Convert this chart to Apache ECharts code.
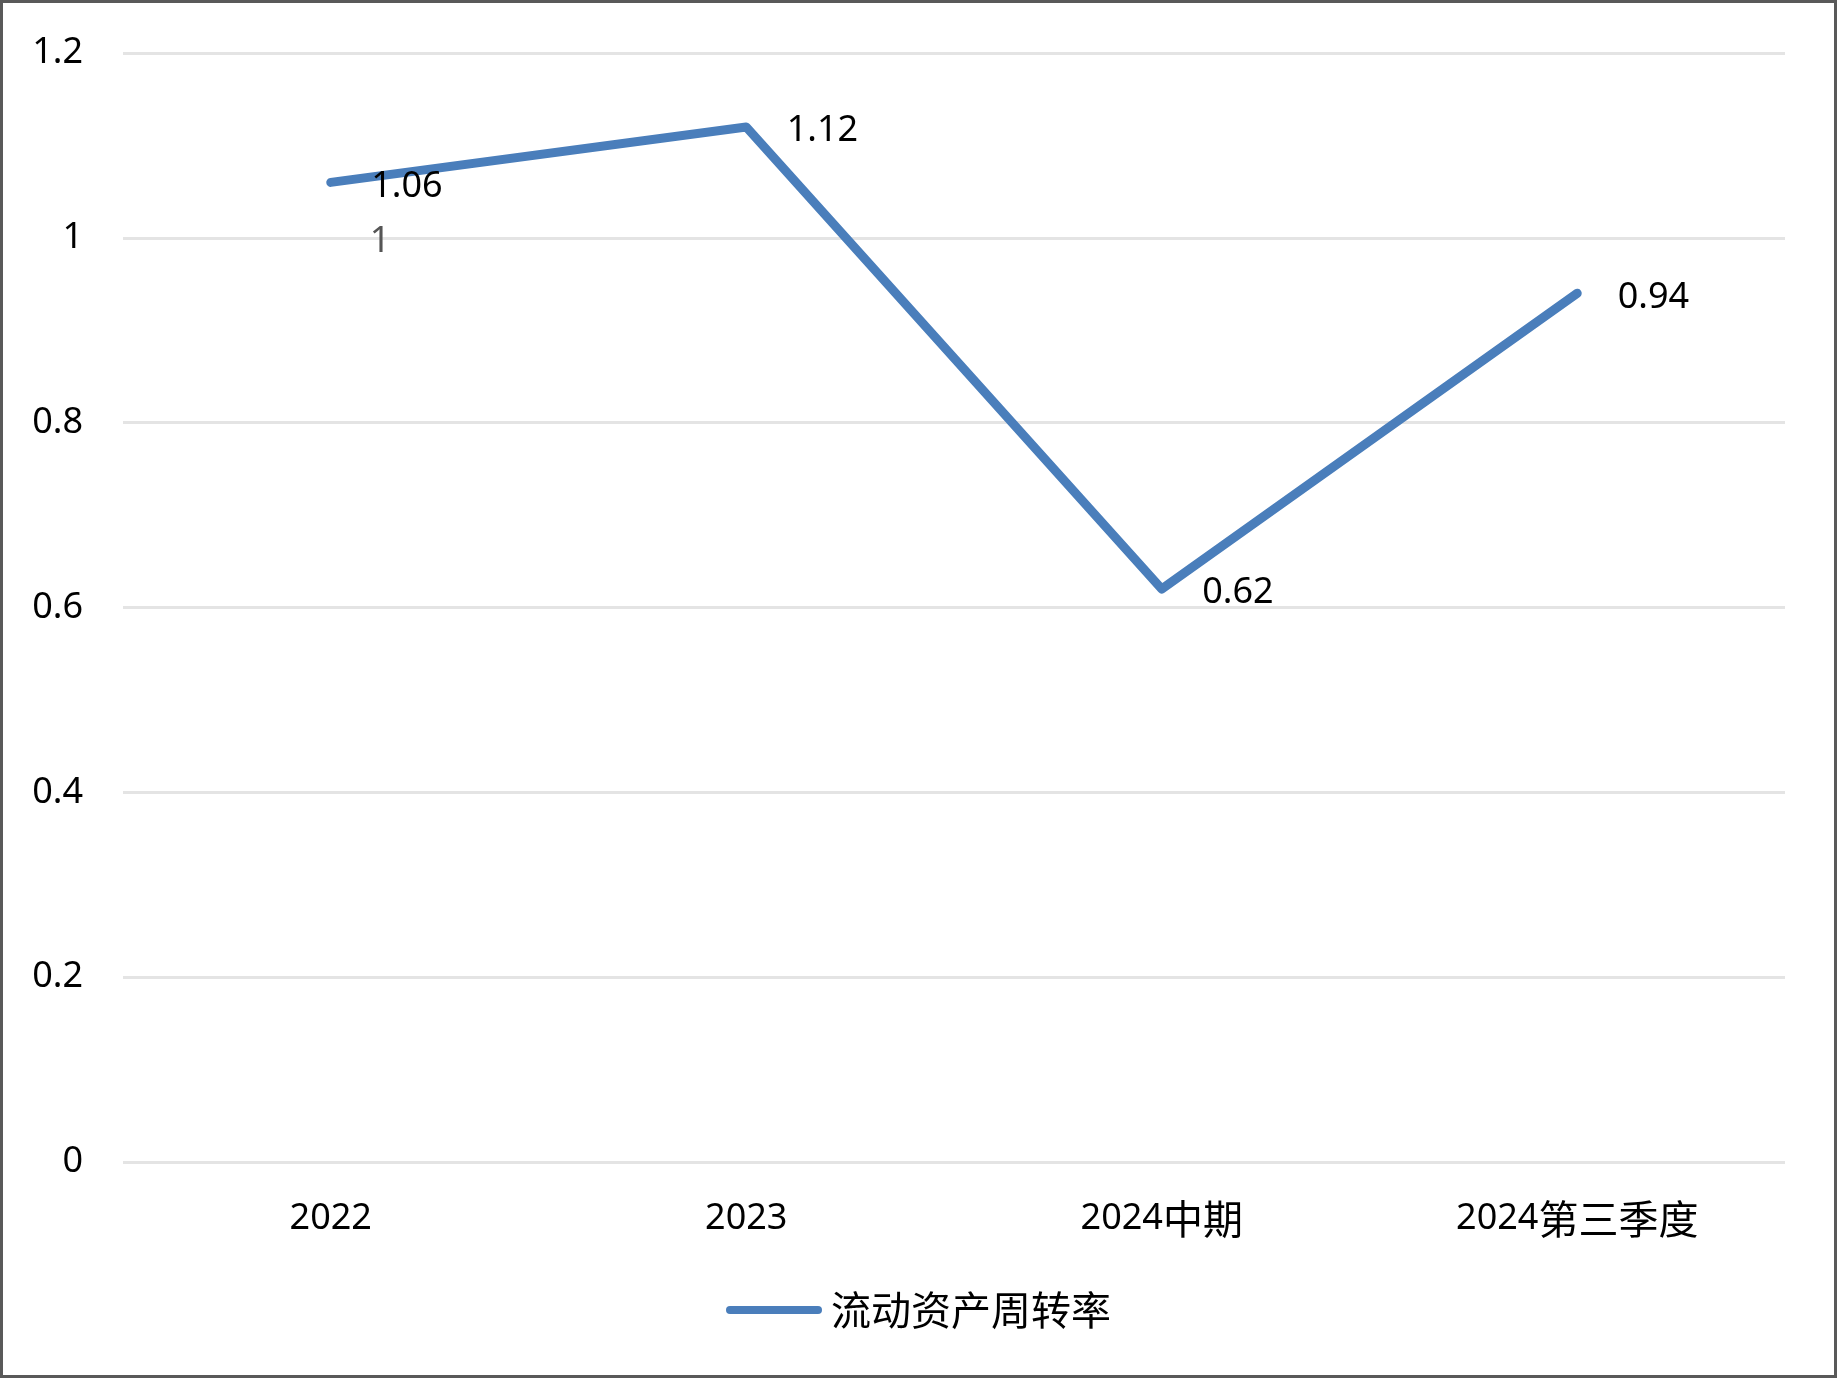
<!DOCTYPE html>
<html>
<head>
<meta charset="utf-8">
<script src="https://cdn.jsdelivr.net/npm/echarts@6/dist/echarts.min.js"></script>
<style>
  html, body { margin: 0; padding: 0; background: #fff; }
  #main { width: 1837px; height: 1378px; }
</style>
</head>
<body>
<div id="main"></div>
<script>
// 数据
var categories = ["2022", "2023", "2024中期", "2024第三季度"];
var turnover = [1.06, 1.12, 0.62, 0.94];
var seriesName = "流动资产周转率";
var yMin = 0, yMax = 1.2, yStep = 0.2;

var chart = echarts.init(document.getElementById("main"));

var option = {
  backgroundColor: "#fff",
  animation: false,
  grid: {
    left: 123,
    right: 52,
    top: 53,
    bottom: 216
  },
  graphic: [
    {
      // 外边框
      type: "rect",
      shape: { x: 1.5, y: 1.5, width: 1834, height: 1375 },
      style: { fill: "none", stroke: "#595959", lineWidth: 3 },
      silent: true
    },
    {
      // 图中多出的灰色 "1"
      type: "text",
      x: 380,
      y: 242,
      z: 10,
      style: {
        text: "1",
        fill: "#555",
        font: "36px 'Noto Sans'",
        align: "center",
        verticalAlign: "middle"
      },
      silent: true
    }
  ],
  legend: {
    data: [seriesName],
    left: "center",
    top: 1285,
    itemWidth: 96,
    itemHeight: 9,
    itemGap: 20,
    icon: "path://M4,0 L92,0 A4,4 0 0 1 92,8 L4,8 A4,4 0 0 1 4,0 Z",
    textStyle: {
      fontSize: 40,
      fontFamily: "Noto Sans CJK SC",
      color: "#000",
      padding: [0, 0, 0, 4]
    }
  },
  xAxis: {
    type: "category",
    data: categories,
    boundaryGap: true,
    axisLine: { show: false },
    axisTick: { show: false },
    axisLabel: {
      margin: 35,
      formatter: function (v) {
        var m = v.match(/^(\d+)(.*)$/);
        return "{d|" + m[1] + "}" + (m[2] ? "{c|" + m[2] + "}" : "");
      },
      rich: {
        d: { fontSize: 36, fontFamily: "Noto Sans", color: "#000", lineHeight: 44 },
        c: { fontSize: 40, fontFamily: "Noto Sans CJK SC", color: "#000", lineHeight: 44 }
      }
    }
  },
  yAxis: {
    type: "value",
    min: yMin,
    max: yMax,
    interval: yStep,
    axisLine: { show: false },
    axisTick: { show: false },
    splitLine: {
      show: true,
      lineStyle: { color: "#e4e4e4", width: 3 }
    },
    axisLabel: {
      margin: 40,
      fontSize: 36,
      fontFamily: "Noto Sans",
      color: "#000",
      padding: [4, 0, 0, 0]
    }
  },
  series: [
    {
      name: seriesName,
      type: "line",
      data: turnover,
      symbol: "circle",
      symbolSize: 1,
      itemStyle: { color: "#4a7ebb" },
      lineStyle: {
        color: "#4a7ebb",
        width: 9,
        cap: "round",
        join: "round"
      },
      label: {
        show: true,
        position: "right",
        distance: 40,
        offset: [0, 4],
        fontSize: 36,
        fontFamily: "Noto Sans",
        color: "#000"
      }
    }
  ]
};

chart.setOption(option);
</script>
</body>
</html>
